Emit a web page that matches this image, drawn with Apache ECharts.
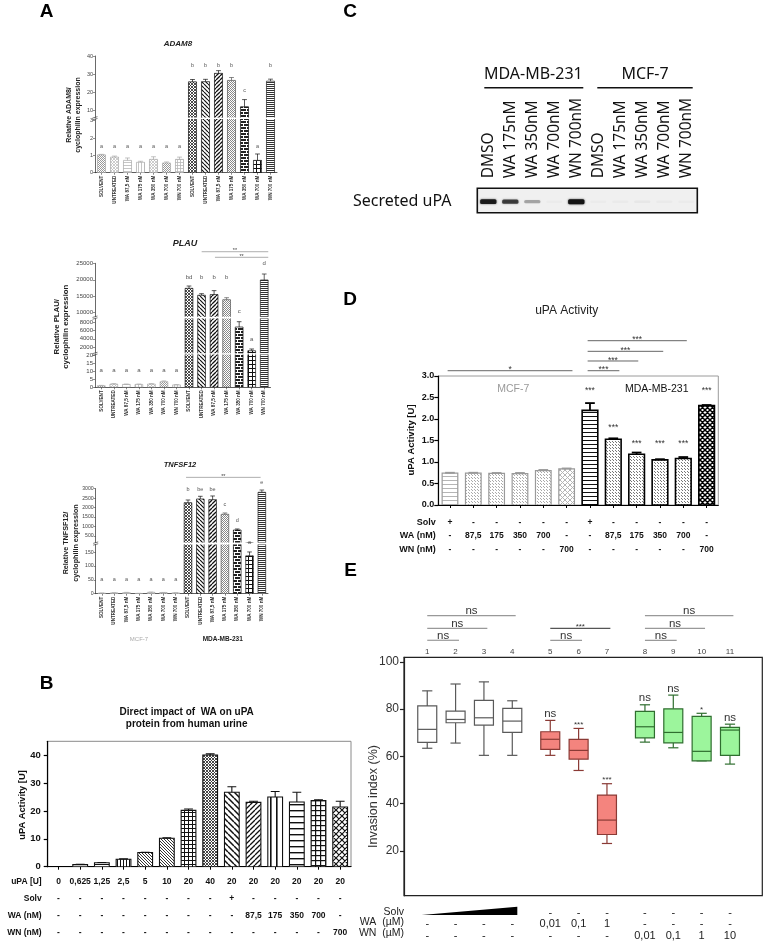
<!DOCTYPE html>
<html><head><meta charset="utf-8">
<script src="https://cdn.jsdelivr.net/npm/echarts@6.0.0/dist/echarts.min.js"></script>
<style>html,body{margin:0;padding:0;background:#fff;}#chart{width:767px;height:946px;}</style>
</head><body><div id="chart"></div>
<script>
// ================= DATA =================
// Panel A (qPCR, broken axes)
const aCategories = ['SOLVENT','UNTREATED','WA 87,5 nM','WA 175 nM','WA 350 nM','WA 700 nM','WN 700 nM','SOLVENT','UNTREATED','WA 87,5 nM','WA 175 nM','WA 350 nM','WA 700 nM','WN 700 nM'];
const adam8Values = [1.03,0.9,0.71,0.6,0.77,0.56,0.77,25.7,25.8,30.4,26.5,11.9,0.71,26.1];
const adam8Errors = [0.03,0.06,0.14,0.06,0.15,0.06,0.13,1.3,1.3,1.5,1.6,4.0,0.37,1.1];
const adam8Letters = ['a','a','a','a','a','a','a','b','b','b','b','c','a','b'];
const adam8LetterY = [1.5,1.5,1.5,1.5,1.5,1.5,1.5,35,35,35,35,21,1.54,35];
const adam8TicksUpper = [10,20,30,40];
const adam8TicksLower = [0,1,2,3];

const plauValues = [1,2,1.8,1.8,2,3.5,1.5,17400,15300,15500,13950,6860,1100,19930];
const plauErrors = [0.2,0.3,0.2,0.2,0.3,0.5,0.2,700,470,1200,600,1290,420,1820];
const plauLetters = ['a','a','a','a','a','a','a','bd','b','b','b','c','a','d'];
const plauLetterY = [10.8,10.8,10.8,10.8,10.8,10.8,10.8,20630,20630,20630,20630,10515,3944,25000];
const plauBrackets = [[8.01,13.32,28520,'**'],[9.07,13.32,26820,'**']];
const plauTicksUpper = [10000,15000,20000,25000];
const plauTicksMid = [2000,4000,6000,8000];
const plauTicksLower = [0,5,10,15,20];

const tnfValues = [2,3,4,1,5,4,3,2260,2456,2420,1646,817,137,2810];
const tnfErrors = [0.5,0.5,0.8,0.3,0.8,0.6,0.5,143,142,195,70,53,14,121];
const tnfLetters = ['a','a','a','a','a','a','a','b','be','be','c','d','a','e'];
const tnfLetterY = [52,52,52,52,52,52,52,2968,2968,2968,2175,1309,182,3354];
const tnfBrackets = [[6.84,12.9,3600,'**']];
const tnfTicksUpper = [500,1000,1500,2000,2500,3000];
const tnfTicksLower = [0,50,100,150];

// Panel B
const bUPA  = ['0','0,625','1,25','2,5','5','10','20','40','20','20','20','20','20','20'];
const bSolv = ['-','-','-','-','-','-','-','-','+','-','-','-','-','-'];
const bWA   = ['-','-','-','-','-','-','-','-','-','87,5','175','350','700','-'];
const bWN   = ['-','-','-','-','-','-','-','-','-','-','-','-','-','700'];
const bValues = [0,0.75,1.4,2.7,5.1,10.2,20.2,40.1,26.7,23.1,25.0,23.2,23.7,21.4];
const bErrors = [0,0.1,0.1,0.1,0.1,0.15,0.5,0.4,2.0,0.4,2.0,3.5,0.3,2.1];
const bTicks = [0,10,20,30,40];

// Panel C (gel)
const gelLanes = ['DMSO','WA 175nM','WA 350nM','WA 700nM','WN 700nM','DMSO','WA 175nM','WA 350nM','WA 700nM','WN 700nM'];
const gelBandIntensity = [0.92,0.72,0.3,0.02,1.0,0.02,0.025,0.04,0.025,0.02];

// Panel D
const dSolv = ['+','-','-','-','-','-','+','-','-','-','-','-'];
const dWA   = ['-','87,5','175','350','700','-','-','87,5','175','350','700','-'];
const dWN   = ['-','-','-','-','-','700','-','-','-','-','-','700'];
const dValues = [0.74,0.74,0.735,0.73,0.8,0.84,2.2,1.53,1.18,1.05,1.08,2.31];
const dErrors = [0.01,0.01,0.01,0.015,0.015,0.01,0.17,0.02,0.04,0.015,0.035,0.015];
const dStars  = ['','','','','','','***','***','***','***','***','***'];
const dStarY  = [0,0,0,0,0,0,2.70,1.84,1.47,1.47,1.47,2.70];
const dBrackets = [[-0.1,5.25,3.123,'*'],[5.9,7.26,3.123,'***'],[5.9,8.07,3.349,'***'],[5.9,9.14,3.574,'***'],[5.9,10.15,3.821,'***']];
const dGroupLabels = [[2.71,2.70,'MCF-7'],[8.86,2.70,'MDA-MB-231']];

// Panel E (boxplots)
const eGroup  = [0,0,0,0,1,1,1,2,2,2,2];
const eMin    = [63.4,65.6,60.4,60.4,60.4,54.0,23.1,66.0,63.6,58.1,56.7];
const eQ1     = [65.9,74.2,73.2,70.1,62.9,58.8,26.9,67.8,65.7,58.1,60.4];
const eMedian = [71.4,75.6,76.3,74.9,67.2,62.5,33.0,72.5,70.1,62.1,71.1];
const eQ3     = [81.3,79.1,83.7,80.3,70.4,67.2,43.6,79.0,80.1,76.9,72.2];
const eMax    = [87.7,90.6,91.5,83.5,75.2,71.8,48.4,81.8,85.9,78.2,73.6];
const eSig    = ['','','','','ns','***','***','ns','ns','*','ns'];
const eSolv   = ['','','','','-','-','-','-','-','-','-'];
const eWA     = ['-','-','-','-','0,01','0,1','1','-','-','-','-'];
const eWN     = ['-','-','-','-','-','-','-','0,01','0,1','1','10'];
const eBrackets = [[0,3,119.5,'ns'],[0,2,114.1,'ns'],[0,1,109.1,'ns'],[4,6,114.1,'***'],[4,5,109.1,'ns'],[7,10,119.5,'ns'],[7,9,114.1,'ns'],[7,8,109.1,'ns']];
const eYTicks = [20,40,60,80,100];

// ================= HELPERS =================
const FONT = 'Liberation Sans';
const CFONT = 'Noto Sans';
const opt = {animation:false, backgroundColor:'#fff', textStyle:{fontFamily:FONT}, grid:[], xAxis:[], yAxis:[], series:[], graphic:{elements:[]}};
const G = opt.graphic.elements;
function addGrid(g){ g.outerBoundsMode='none'; g.containLabel=false; opt.grid.push(g); return opt.grid.length-1; }
function addX(a){ opt.xAxis.push(a); return opt.xAxis.length-1; }
function addY(a){ opt.yAxis.push(a); return opt.yAxis.length-1; }
function txtStyle(text, s){ return {text, fontSize:s.size, fontFamily:s.family||FONT, fontWeight:s.weight||'normal', fontStyle:s.fstyle||'normal', fill:s.color||'#000', align:s.align||'center', verticalAlign:s.va||'middle', textAlign:s.align||'center', textVerticalAlign:s.va||'middle', lineHeight:s.lh}; }
function gText(x,y,text,s){ G.push({type:'text', x, y, rotation:s.rot||0, silent:true, z:100, style:txtStyle(text,s)}); }
function gLine(x1,y1,x2,y2,color,w){ G.push({type:'line', silent:true, z:100, shape:{x1,y1,x2,y2}, style:{stroke:color, lineWidth:w}}); }

function tile(w,h,draw){ const c=document.createElement('canvas'); c.width=w; c.height=h; const g=c.getContext('2d'); g.fillStyle='#fff'; g.fillRect(0,0,w,h); draw(g); return {image:c, repeat:'repeat'}; }
function pat(kind,color,s,lw){
  s=s||4; lw=lw||1;
  if(kind==='none') return '#fff';
  if(kind==='h') return tile(s,s,g=>{g.fillStyle=color; g.fillRect(0,0,s,lw);});
  if(kind==='v') return tile(s,s,g=>{g.fillStyle=color; g.fillRect(0,0,lw,s);});
  if(kind==='grid') return tile(s,s,g=>{g.fillStyle=color; g.fillRect(0,0,s,lw); g.fillRect(0,0,lw,s);});
  if(kind==='f'||kind==='b'||kind==='x') return tile(s,s,g=>{g.strokeStyle=color; g.lineWidth=lw; g.beginPath();
      for(const k of [-s,0,s]){ if(kind!=='b'){g.moveTo(k,s); g.lineTo(k+s,0);} if(kind!=='f'){g.moveTo(k,0); g.lineTo(k+s,s);} } g.stroke();});
  if(kind==='dots') return tile(s,s,g=>{g.fillStyle=color; g.fillRect(0,0,lw,lw); const m=Math.floor(s/2); g.fillRect(m,m,lw,lw);});
  if(kind==='brick') return tile(6,6,g=>{g.fillStyle=color; g.fillRect(0,0,6,6); g.fillStyle='#fff'; g.fillRect(0,0,6,1); g.fillRect(0,3,6,1); g.fillRect(0,1,1,2); g.fillRect(3,4,1,2);});
  return '#fff';
}
function sty(kind,color,s,lw,stroke,blw){ return {fill:pat(kind,color,s,lw), stroke, lw:blw}; }

function barSeries(xi, yi, values, errors, styles, o){
  return {type:'custom', xAxisIndex:xi, yAxisIndex:yi, clip:true, silent:true, lineStyle:{width:0.01},
    data: values.map((v,i)=>[i,v,errors[i]]),
    renderItem:(params,api)=>{
      const i=api.value(0), v=api.value(1), e=api.value(2); const st=styles[i];
      const lw = st.lw || o.lw;
      const bw = api.size([1,0])[0]*o.barFrac;
      const c0=api.coord([i,0]), c1=api.coord([i,v]), ce=api.coord([i,v+e]);
      const ch=[];
      if(v>0) ch.push({type:'rect', shape:{x:c0[0]-bw/2, y:c1[1], width:bw, height:c0[1]-c1[1]}, style:{fill:st.fill, stroke:st.stroke, lineWidth:lw}});
      if(e>0){ const cw=bw*o.cap/2; const ew=o.elw||lw;
        ch.push({type:'line', shape:{x1:c0[0],y1:c1[1],x2:c0[0],y2:ce[1]}, style:{stroke:st.stroke, lineWidth:ew}});
        ch.push({type:'line', shape:{x1:c0[0]-cw,y1:ce[1],x2:c0[0]+cw,y2:ce[1]}, style:{stroke:st.stroke, lineWidth:ew}}); }
      return {type:'group', children:ch};
    }};
}
function textSeries(xi, yi, items, s){
  return {type:'custom', xAxisIndex:xi, yAxisIndex:yi, clip:false, silent:true, z:5,
    data: items.map(it=>[it[0],it[1]]),
    renderItem:(params,api)=>{ const it=items[params.dataIndex]; const p=api.coord([api.value(0),api.value(1)]);
      const ss=Object.assign({}, s, it[3]?{color:it[3]}:{});
      return {type:'text', x:p[0]+(s.dx||0), y:p[1]+(s.dy||0), style:txtStyle(it[2], ss)}; }};
}
function bracketSeries(xi, yi, items, s){
  return {type:'custom', xAxisIndex:xi, yAxisIndex:yi, clip:false, silent:true, z:5,
    data: items.map(it=>[it[0],it[2]]),
    renderItem:(params,api)=>{ const it=items[params.dataIndex];
      const p1=api.coord([it[0],it[2]]), p2=api.coord([it[1],it[2]]);
      const star = it[3].indexOf('*')>=0;
      const col = (s.colorFn ? s.colorFn(it) : s.lineColor);
      return {type:'group', children:[
        {type:'line', shape:{x1:p1[0],y1:p1[1],x2:p2[0],y2:p2[1]}, style:{stroke:col, lineWidth:s.lw}},
        {type:'text', x:(p1[0]+p2[0])/2, y:p1[1]-(star?s.starGap:s.gap), style:txtStyle(it[3], {size:star?s.starSize:s.size, color:s.textColor})}
      ]}; }};
}

// ================= PANEL A =================
function buildBroken(p){
  const n=p.values.length; const refs=[];
  p.segs.forEach((s,k)=>{
    const last = k===p.segs.length-1;
    const gi=addGrid({left:p.left, top:s.top, width:p.width, height:s.height});
    addX({type:'category', gridIndex:gi, data:p.cats, show:last, position:'bottom',
      axisLine:{onZero:false, lineStyle:{color:'#333', width:0.8}},
      axisTick:{show:true, alignWithLabel:true, length:2, lineStyle:{color:'#333', width:0.6}},
      axisLabel:{rotate:90, interval:0, fontSize:p.xFont, fontWeight:'bold', color:'#333', margin:3, fontFamily:FONT},
      splitLine:{show:false}});
    const xv=addX({type:'value', gridIndex:gi, min:-0.5, max:n-0.5, show:false, splitLine:{show:false}});
    const yi=addY({type:'value', gridIndex:gi, min:s.min, max:s.max,
      axisLine:{show:true, onZero:false, lineStyle:{color:'#444', width:0.8}},
      axisTick:{show:true, length:2, customValues:s.ticks, lineStyle:{color:'#444', width:0.6}},
      axisLabel:{customValues:s.ticks, fontSize:p.yFont, color:'#444', margin:2, fontFamily:FONT, formatter:v=>String(v)},
      splitLine:{show:false}});
    refs.push({xv,yi,s,gi});
    opt.series.push(barSeries(xv, yi, p.values, p.errors, p.styles, {barFrac:0.62, lw:0.7, cap:0.6}));
  });
  // small break marks on the y axis between segments
  for(let k=0;k<p.segs.length-1;k++){
    const yb=(p.segs[k].top+p.segs[k].height+p.segs[k+1].top)/2;
    gLine(p.left-2.5, yb-0.2, p.left+2.5, yb-1.6, '#444', 0.7);
    gLine(p.left-2.5, yb+1.6, p.left+2.5, yb+0.2, '#444', 0.7);
  }
  const groups = refs.map(()=>[]);
  p.letters.forEach((L,i)=>{
    const y=p.letterY[i];
    let k = refs.findIndex(r=>y>=r.s.min && y<=r.s.max);
    if(k<0) k = (y>refs[0].s.max) ? 0 : refs.length-1;
    groups[k].push([i,y,L]);
  });
  groups.forEach((items,k)=>{ if(items.length) opt.series.push(textSeries(refs[k].xv, refs[k].yi, items, {size:p.letterFont, color:'#555'})); });
  if(p.brackets && p.brackets.length) opt.series.push(bracketSeries(refs[0].xv, refs[0].yi, p.brackets, {lineColor:'#999', lw:0.8, size:5, starSize:5.5, gap:2, starGap:1, textColor:'#444'}));
}
const MG='#b8b8b8', MS='#a8a8a8';
const aStyles = [
  sty('dots','#999',2,1,MS), sty('x',MG,3,0.7,MS), sty('h',MG,3,0.8,MS), sty('v',MG,3,0.8,MS), sty('x',MG,3,0.7,MS), sty('dots','#999',2,1,MS), sty('grid',MG,3,0.8,MS),
  sty('x','#222',3,0.8,'#111'), sty('b','#111',4,1.2,'#111'), sty('f','#111',4,1.3,'#111'), sty('dots','#888',2,1,'#555'), sty('brick','#222',6,1,'#111'), sty('grid','#111',4,1,'#111'), sty('h','#333',2,1,'#222')
];
buildBroken({left:95, width:182, cats:aCategories, values:adam8Values, errors:adam8Errors, styles:aStyles,
  segs:[{top:56, height:61.5, min:6, max:40, ticks:adam8TicksUpper},{top:119, height:53.7, min:0, max:3.1, ticks:adam8TicksLower}],
  letters:adam8Letters, letterY:adam8LetterY, yFont:5.5, xFont:4.6, letterFont:5.5});
buildBroken({left:95, width:175.5, cats:aCategories, values:plauValues, errors:plauErrors, styles:aStyles,
  segs:[{top:263.3, height:53.35, min:8800, max:25000, ticks:plauTicksUpper},{top:318.6, height:34.6, min:500, max:8900, ticks:plauTicksMid},{top:354.5, height:32.8, min:0, max:20.5, ticks:plauTicksLower}],
  letters:plauLetters, letterY:plauLetterY, brackets:plauBrackets, yFont:6, xFont:4.6, letterFont:6});
buildBroken({left:95.7, width:172.3, cats:aCategories, values:tnfValues, errors:tnfErrors, styles:aStyles,
  segs:[{top:488.7, height:53.9, min:150, max:3000, ticks:tnfTicksUpper},{top:544.5, height:49.2, min:0, max:178, ticks:tnfTicksLower}],
  letters:tnfLetters, letterY:tnfLetterY, brackets:tnfBrackets, yFont:5.2, xFont:4.6, letterFont:5.5});

// ================= PANEL B =================
(function(){
  const gi=addGrid({left:47.7, top:741.3, width:303.3, height:125.4, show:true, borderColor:'#8a8a8a', borderWidth:1});
  addX({type:'category', gridIndex:gi, data:bUPA, position:'bottom',
    axisLine:{onZero:false, lineStyle:{color:'#000', width:1.2}},
    axisTick:{show:true, alignWithLabel:true, length:3, lineStyle:{color:'#000', width:1}},
    axisLabel:{interval:0, margin:6.5, fontSize:8.5, fontWeight:'bold', color:'#111', lineHeight:17, fontFamily:FONT,
      formatter:(v,i)=>[bUPA[i],bSolv[i],bWA[i],bWN[i]].join('\n')}, splitLine:{show:false}});
  const xv=addX({type:'value', gridIndex:gi, min:-0.5, max:bValues.length-0.5, show:false, splitLine:{show:false}});
  const yi=addY({type:'value', gridIndex:gi, min:0, max:45,
    axisLine:{show:true, onZero:false, lineStyle:{color:'#000', width:1.2}},
    axisTick:{show:true, length:4, customValues:bTicks, lineStyle:{color:'#000', width:1.2}},
    axisLabel:{customValues:bTicks, fontSize:9.5, fontWeight:'bold', color:'#111', margin:7, fontFamily:FONT}, splitLine:{show:false}});
  const K='#111';
  const bStyles=[sty('none',K,4,1,K), sty('h',K,3,1,K), sty('h',K,3,1,K), sty('v',K,3,1,K), sty('b','#333',3,1,K), sty('b','#333',3,1,K),
    sty('grid',K,4,1,K), sty('x','#333',3,0.9,K), sty('b',K,6,1.5,K), sty('f',K,5,1.3,K), sty('v',K,6,1.6,K), sty('h',K,6,1.4,K), sty('grid',K,5,1.2,K), sty('x',K,6,1.2,K)];
  opt.series.push(barSeries(xv, yi, bValues, bErrors, bStyles, {barFrac:0.68, lw:1.1, cap:0.6}));
  gText(46.7, 683.3, 'B', {size:19, weight:'bold'});
  gText(186.7, 718, 'Direct impact of  WA on uPA\nprotein from human urine', {size:10, weight:'bold', lh:11.5, color:'#111'});
  gText(22.5, 805, 'uPA Activity [U]', {size:9.3, weight:'bold', rot:Math.PI/2, color:'#111'});
  const rows=['uPA [U]','Solv','WA (nM)','WN (nM)'];
  rows.forEach((r,k)=>gText(41.7, 881.7+17*k, r, {size:8.5, weight:'bold', align:'right', color:'#111'}));
})();

// ================= PANEL C =================
(function(){
  const gi=addGrid({left:477.3, top:188.3, width:220, height:24.4, show:true, borderColor:'#111', borderWidth:1.6, backgroundColor:'#f0f0f0'});
  addX({type:'category', gridIndex:gi, data:gelLanes, position:'top', axisLine:{show:false}, axisTick:{show:false},
    axisLabel:{rotate:90, interval:0, margin:10, fontSize:15.5, fontFamily:CFONT, color:'#111'}, splitLine:{show:false}});
  const xv=addX({type:'value', gridIndex:gi, min:-0.5, max:gelLanes.length-0.5, show:false, splitLine:{show:false}});
  const yi=addY({type:'value', gridIndex:gi, min:0, max:1, show:false, splitLine:{show:false}});
  opt.series.push({type:'custom', xAxisIndex:xv, yAxisIndex:yi, clip:true, silent:true, lineStyle:{width:0.01},
    data: gelBandIntensity.map((v,i)=>[i,v]),
    renderItem:(params,api)=>{ const i=api.value(0), v=api.value(1); const c=api.coord([i,0.45]); const w=api.size([0.74,0])[0]; const h=2.5+2.5*v;
      return {type:'rect', shape:{x:c[0]-w/2, y:c[1]-h/2, width:w, height:h, r:1.5}, style:{fill:'rgba(20,20,20,'+v+')', shadowBlur:2, shadowColor:'rgba(20,20,20,'+(v*0.8)+')'}}; }});
  gText(350, 12, 'C', {size:19, weight:'bold'});
  gText(533.3, 74, 'MDA-MB-231', {size:16, family:CFONT, color:'#111'});
  gText(645, 74, 'MCF-7', {size:16, family:CFONT, color:'#111'});
  gLine(484.3, 87.7, 583.3, 87.7, '#111', 1.5);
  gLine(597.3, 87.7, 692.7, 87.7, '#111', 1.5);
  gText(353, 201, 'Secreted uPA', {size:16, family:CFONT, align:'left', color:'#111'});
})();

// ================= PANEL D =================
(function(){
  const gi=addGrid({left:438.3, top:376, width:280, height:129, show:true, borderColor:'#9a9a9a', borderWidth:1});
  addX({type:'category', gridIndex:gi, data:dSolv.map((_,i)=>String(i)), position:'bottom',
    axisLine:{onZero:false, lineStyle:{color:'#000', width:1.2}},
    axisTick:{show:true, alignWithLabel:true, length:3, lineStyle:{color:'#000', width:1}},
    axisLabel:{interval:0, margin:10.5, fontSize:8.5, fontWeight:'bold', color:'#111', lineHeight:13.5, fontFamily:FONT,
      formatter:(v,i)=>[dSolv[i],dWA[i],dWN[i]].join('\n')}, splitLine:{show:false}});
  const xv=addX({type:'value', gridIndex:gi, min:-0.5, max:dValues.length-0.5, show:false, splitLine:{show:false}});
  const yi=addY({type:'value', gridIndex:gi, min:0, max:3, interval:0.5,
    axisLine:{show:true, onZero:false, lineStyle:{color:'#000', width:1.2}},
    axisTick:{show:true, length:4, lineStyle:{color:'#000', width:1.2}},
    axisLabel:{fontSize:9, fontWeight:'bold', color:'#111', margin:4, fontFamily:FONT, formatter:v=>v.toFixed(1)}, splitLine:{show:false}});
  const GS='#9a9a9a', GP='#b5b5b5';
  const dStyles=[sty('h',GP,4,1,GS,1.2), sty('dots','#aaa',3,1,GS,1.2), sty('dots','#aaa',3,1,GS,1.2), sty('dots','#aaa',3,1,GS,1.2), sty('dots','#aaa',3,1,GS,1.2), sty('x',GP,5,1,GS,1.2),
    sty('h','#111',4,1,'#000',1.6), sty('dots','#777',3,1,'#000',1.6), sty('dots','#777',3,1,'#000',1.6), sty('dots','#777',3,1,'#000',1.6), sty('dots','#777',3,1,'#000',1.6), sty('x','#000',5,1.5,'#000',1.6)];
  opt.series.push(barSeries(xv, yi, dValues, dErrors, dStyles, {barFrac:0.67, lw:1.4, elw:1.8, cap:0.62}));
  const starItems = dStars.map((s,i)=>[i,dStarY[i],s]).filter(it=>it[2]);
  opt.series.push(textSeries(xv, yi, starItems, {size:8.5, color:'#333', dy:2}));
  opt.series.push(textSeries(xv, yi, dGroupLabels.map((it,k)=>[it[0],it[1],it[2],k===0?'#9a9a9a':'#111']), {size:10.5}));
  opt.series.push(bracketSeries(xv, yi, dBrackets, {lineColor:'#666', lw:1, size:8, starSize:8.5, gap:3, starGap:0.8, textColor:'#333'}));
  gText(350, 300, 'D', {size:19, weight:'bold'});
  gText(566.7, 310.7, 'uPA Activity', {size:12, color:'#222'});
  gText(411.7, 440, 'uPA Activity [U]', {size:9.5, weight:'bold', rot:Math.PI/2, color:'#111'});
  ['Solv','WA (nM)','WN (nM)'].forEach((r,k)=>gText(435.7, 522.3+13.5*k, r, {size:9, weight:'bold', align:'right', color:'#111'}));
})();

// ================= PANEL E =================
(function(){
  const ePos = eGroup.map((g,i)=>i+1+0.34*g);
  const gi=addGrid({left:404, top:657.3, width:358.3, height:238.4, show:true, borderColor:'#222', borderWidth:1.2});
  const xi=addX({type:'value', gridIndex:gi, min:0.18, max:12.82, axisLine:{show:false, onZero:false}, axisTick:{show:false}, splitLine:{show:false},
    axisLabel:{customValues:ePos, margin:11.5, fontSize:11, color:'#222', lineHeight:11.5, fontFamily:FONT,
      formatter:v=>{ const i=ePos.findIndex(p=>Math.abs(p-v)<1e-6); return i<0?'':[eSolv[i]||' ',eWA[i],eWN[i]].join('\n'); }}});
  const yi=addY({type:'value', gridIndex:gi, min:1, max:101.9,
    axisLine:{show:true, onZero:false, lineStyle:{color:'#222', width:1.2}},
    axisTick:{show:true, length:4, customValues:eYTicks, lineStyle:{color:'#222', width:1.2}},
    axisLabel:{customValues:eYTicks, fontSize:12, color:'#333', margin:5, fontFamily:FONT}, splitLine:{show:false}});
  const gStyle=[{fill:'#ffffff', stroke:'#5a5a5a'},{fill:'#F4847E', stroke:'#8a3a35'},{fill:'#9CF59C', stroke:'#2f6e2f'}];
  opt.series.push({type:'custom', xAxisIndex:xi, yAxisIndex:yi, clip:false, silent:true,
    data: ePos.map((x,i)=>[x, eMedian[i]]),
    renderItem:(params,api)=>{
      const i=params.dataIndex; const x=api.value(0); const st=gStyle[eGroup[i]];
      const w=api.size([0.67,0])[0], cw=api.size([0.36,0])[0]/2;
      const cMin=api.coord([x,eMin[i]]), cQ1=api.coord([x,eQ1[i]]), cMed=api.coord([x,eMedian[i]]), cQ3=api.coord([x,eQ3[i]]), cMax=api.coord([x,eMax[i]]);
      const cx=cMed[0]; const ls={stroke:st.stroke, lineWidth:1.2};
      const ch=[
        {type:'line', shape:{x1:cx,y1:cMax[1],x2:cx,y2:cQ3[1]}, style:ls},
        {type:'line', shape:{x1:cx,y1:cQ1[1],x2:cx,y2:cMin[1]}, style:ls},
        {type:'line', shape:{x1:cx-cw,y1:cMax[1],x2:cx+cw,y2:cMax[1]}, style:ls},
        {type:'line', shape:{x1:cx-cw,y1:cMin[1],x2:cx+cw,y2:cMin[1]}, style:ls},
        {type:'rect', shape:{x:cx-w/2, y:cQ3[1], width:w, height:cQ1[1]-cQ3[1]}, style:{fill:st.fill, stroke:st.stroke, lineWidth:1.2}},
        {type:'line', shape:{x1:cx-w/2,y1:cMed[1],x2:cx+w/2,y2:cMed[1]}, style:ls}
      ];
      const top=api.coord([x,104.2]);
      ch.push({type:'text', x:cx, y:top[1], style:txtStyle(String(i+1), {size:8, color:'#444'})});
      if(eSig[i]){ const star=eSig[i].indexOf('*')>=0;
        ch.push({type:'text', x:cx, y:cMax[1]-(star?3.5:6.5), style:txtStyle(eSig[i], {size:star?8:11.5, color:'#333'})}); }
      return {type:'group', children:ch};
    }});
  const eBr = eBrackets.map(b=>[ePos[b[0]], ePos[b[1]]+0.12, b[2], b[3]]);
  opt.series.push(bracketSeries(xi, yi, eBr, {colorFn:it=>it[3]==='***'?'#555':'#999', lw:1.2, size:11.5, starSize:8, gap:4.5, starGap:1.3, textColor:'#333'}));
  gText(350.5, 570.7, 'E', {size:19, weight:'bold'});
  gText(373.3, 796.5, 'Invasion index (%)', {size:12.5, rot:Math.PI/2, color:'#333'});
  gText(404, 911.7, 'Solv', {size:10.5, align:'right', color:'#222'});
  gText(404, 922.2, 'WA  (µM)', {size:10.5, align:'right', color:'#222'});
  gText(404, 932.7, 'WN  (µM)', {size:10.5, align:'right', color:'#222'});
  G.push({type:'polygon', silent:true, z:100, shape:{points:[[421.7,915],[517.3,915],[517.3,906.7]]}, style:{fill:'#000'}});
})();

// ================= PANEL A texts =================
gText(46.7, 11.7, 'A', {size:19, weight:'bold'});
gText(178, 44, 'ADAM8', {size:8, weight:'bold', fstyle:'italic', color:'#222'});
gText(185, 243.3, 'PLAU', {size:9, weight:'bold', fstyle:'italic', color:'#222'});
gText(180, 465.3, 'TNFSF12', {size:7.5, weight:'bold', fstyle:'italic', color:'#222'});
gText(73.5, 115, 'Relative ADAM8/\ncyclophilin expression', {size:7, weight:'bold', rot:Math.PI/2, lh:9, color:'#222'});
gText(61.5, 326.7, 'Relative PLAU/\ncyclophilin expression', {size:7.8, weight:'bold', rot:Math.PI/2, lh:9.5, color:'#222'});
gText(71, 543, 'Relative TNFSF12/\ncyclophilin expression', {size:7.2, weight:'bold', rot:Math.PI/2, lh:10, color:'#222'});
gText(139, 639, 'MCF-7', {size:6, color:'#aaa'});
gText(222.7, 639, 'MDA-MB-231', {size:6.5, weight:'bold', color:'#222'});

const chart = echarts.init(document.getElementById('chart'), null, {renderer:'canvas'});
chart.setOption(opt);
</script>
</body></html>
